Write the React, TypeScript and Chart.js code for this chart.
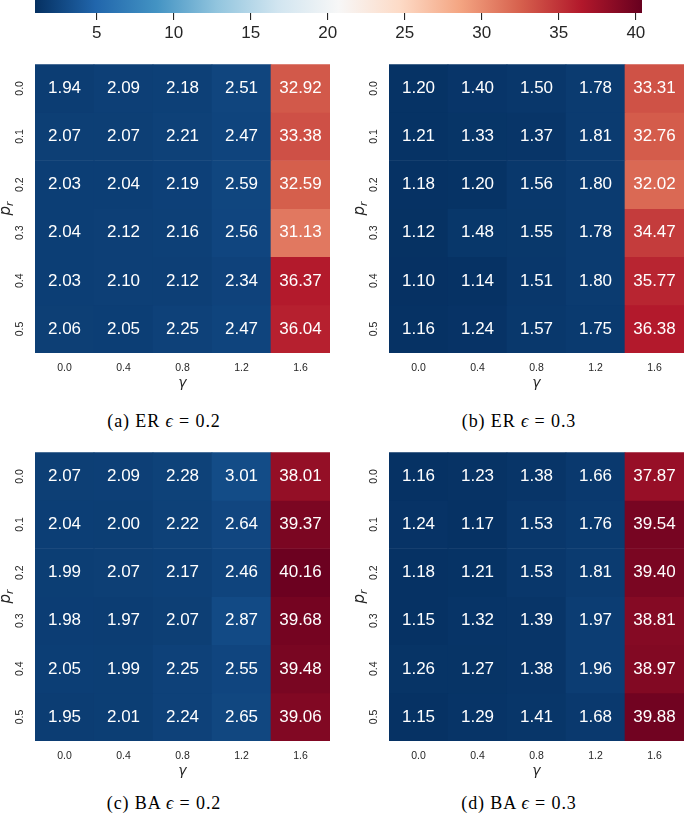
import React, { useEffect, useRef } from 'react';
import { Chart, registerables } from 'chart.js';

Chart.register(...registerables);

// ---------- data ----------
const gammaLabels = ['0.0', '0.4', '0.8', '1.2', '1.6'];
const prLabels = ['0.0', '0.1', '0.2', '0.3', '0.4', '0.5'];

const erEps02 = [
  [1.94, 2.09, 2.18, 2.51, 32.92],
  [2.07, 2.07, 2.21, 2.47, 33.38],
  [2.03, 2.04, 2.19, 2.59, 32.59],
  [2.04, 2.12, 2.16, 2.56, 31.13],
  [2.03, 2.10, 2.12, 2.34, 36.37],
  [2.06, 2.05, 2.25, 2.47, 36.04],
];
const erEps03 = [
  [1.20, 1.40, 1.50, 1.78, 33.31],
  [1.21, 1.33, 1.37, 1.81, 32.76],
  [1.18, 1.20, 1.56, 1.80, 32.02],
  [1.12, 1.48, 1.55, 1.78, 34.47],
  [1.10, 1.14, 1.51, 1.80, 35.77],
  [1.16, 1.24, 1.57, 1.75, 36.38],
];
const baEps02 = [
  [2.07, 2.09, 2.28, 3.01, 38.01],
  [2.04, 2.00, 2.22, 2.64, 39.37],
  [1.99, 2.07, 2.17, 2.46, 40.16],
  [1.98, 1.97, 2.07, 2.87, 39.68],
  [2.05, 1.99, 2.25, 2.55, 39.48],
  [1.95, 2.01, 2.24, 2.65, 39.06],
];
const baEps03 = [
  [1.16, 1.23, 1.38, 1.66, 37.87],
  [1.24, 1.17, 1.53, 1.76, 39.54],
  [1.18, 1.21, 1.53, 1.81, 39.40],
  [1.15, 1.32, 1.39, 1.97, 38.81],
  [1.26, 1.27, 1.38, 1.96, 38.97],
  [1.15, 1.29, 1.41, 1.68, 39.88],
];

const colorbarTicks = [5, 10, 15, 20, 25, 30, 35, 40];
const vmin = 1.0;
const vmax = 40.4;

// RdBu_r colormap anchors
const rdbuR = ['#053061', '#2166ac', '#4393c3', '#92c5de', '#d1e5f0', '#f7f7f7', '#fddbc7', '#f4a582', '#d6604d', '#b2182b', '#67001f'];

function hexToRgb(h: string) {
  const n = parseInt(h.slice(1), 16);
  return [(n >> 16) & 255, (n >> 8) & 255, n & 255];
}
const anchors = rdbuR.map(hexToRgb);

function cmap(v: number) {
  let t = (v - vmin) / (vmax - vmin);
  t = Math.max(0, Math.min(1, t));
  const pos = t * (anchors.length - 1);
  const i = Math.min(Math.floor(pos), anchors.length - 2);
  const f = pos - i;
  const a = anchors[i];
  const b = anchors[i + 1];
  const c = a.map((x, k) => Math.round(x + (b[k] - x) * f));
  return `rgb(${c[0]},${c[1]},${c[2]})`;
}

const TEXT = '#262626';
const SANS = '"Liberation Sans", Arial, sans-serif';
const MATH = '"DejaVu Sans", sans-serif';
Chart.defaults.font.family = SANS;

function makeCellPlugin(values: number[][]) {
  return {
    id: 'cellLabels',
    afterDatasetsDraw(chart: any) {
      const ctx = chart.ctx;
      ctx.save();
      ctx.font = `17px ${SANS}`;
      ctx.fillStyle = '#ffffff';
      ctx.textAlign = 'center';
      ctx.textBaseline = 'middle';
      chart.data.datasets.forEach((_: any, r: number) => {
        const meta = chart.getDatasetMeta(r);
        meta.data.forEach((bar: any, c: number) => {
          const cy = (bar.y + bar.base) / 2;
          ctx.fillText(values[r][c].toFixed(2), bar.x, cy);
        });
      });
      ctx.restore();
    },
  };
}

// y-axis title p_r (italic p with subscript r), rotated like matplotlib's ylabel
const yTitlePlugin = {
  id: 'yTitlePr',
  afterDraw(chart: any) {
    const ctx = chart.ctx;
    const ys = chart.scales.y;
    const cy = (ys.top + ys.bottom) / 2;
    ctx.save();
    ctx.translate(ys.left + 9, cy);
    ctx.rotate(-Math.PI / 2);
    ctx.fillStyle = TEXT;
    ctx.textBaseline = 'alphabetic';
    ctx.textAlign = 'left';
    ctx.font = `italic 15px ${MATH}`;
    const wp = ctx.measureText('p').width;
    ctx.font = `italic 10.5px ${MATH}`;
    const wr = ctx.measureText('r').width;
    const x0 = -(wp + wr) / 2;
    ctx.font = `italic 15px ${MATH}`;
    ctx.fillText('p', x0, 1);
    ctx.font = `italic 10.5px ${MATH}`;
    ctx.fillText('r', x0 + wp, 4);
    ctx.restore();
  },
};

type PanelProps = { values: number[][]; left: number; top: number; width: number; height: number; padRight: number };

function Heatmap({ values, left, top, width, height, padRight }: PanelProps) {
  const ref = useRef<HTMLCanvasElement>(null);
  useEffect(() => {
    const chart = new Chart(ref.current!, {
      type: 'bar',
      data: {
        labels: gammaLabels,
        datasets: prLabels.map((p, r) => ({
          label: p,
          data: gammaLabels.map(() => 1),
          backgroundColor: values[r].map(cmap),
          borderWidth: 0,
          barPercentage: 1,
          categoryPercentage: 1,
          stack: 's',
        })),
      },
      options: {
        responsive: false,
        animation: false,
        layout: { padding: { top: 9, right: padRight, left: 0, bottom: 0 } },
        plugins: { legend: { display: false }, tooltip: { enabled: false } },
        scales: {
          x: {
            stacked: true,
            grid: { display: false, drawTicks: false },
            border: { display: false },
            ticks: { color: TEXT, font: { size: 10.5, family: SANS }, padding: 9, maxRotation: 0, minRotation: 0 },
            title: {
              display: true,
              text: 'γ',
              color: TEXT,
              font: { size: 14, style: 'italic', family: MATH },
              padding: { top: 0, bottom: 1 },
            },
            afterFit: (s: any) => { s.height = 40; },
          },
          y: {
            type: 'linear',
            stacked: true,
            reverse: true,
            min: 0,
            max: 6,
            grid: { display: false, drawTicks: false },
            border: { display: false },
            afterBuildTicks: (s: any) => { s.ticks = prLabels.map((_, i) => ({ value: i + 0.5 })); },
            ticks: {
              color: TEXT,
              font: { size: 10.5, family: SANS },
              padding: 8,
              minRotation: 90,
              maxRotation: 90,
              crossAlign: 'center',
              callback: (_v: any, i: number) => prLabels[i],
            },
            title: { display: false },
            afterFit: (s: any) => { s.width = 35; },
          },
        },
      } as any,
      plugins: [makeCellPlugin(values), yTitlePlugin],
    });
    return () => chart.destroy();
  }, [values, padRight]);
  return (
    <canvas ref={ref} width={width} height={height} style={{ position: 'absolute', left, top, width, height }} />
  );
}

function Colorbar() {
  const ref = useRef<HTMLCanvasElement>(null);
  useEffect(() => {
    const chart = new Chart(ref.current!, {
      type: 'bar',
      data: {
        labels: [''],
        datasets: [
          {
            data: [[vmin, vmax]],
            backgroundColor: (ctx: any) => {
              const ch = ctx.chart;
              const sx = ch.scales.x;
              if (!ch.chartArea || !sx) return rdbuR[5];
              const x0 = sx.getPixelForValue(vmin);
              const x1 = sx.getPixelForValue(vmax);
              const g = ch.ctx.createLinearGradient(x0, 0, x1, 0);
              rdbuR.forEach((c, i) => g.addColorStop(i / (rdbuR.length - 1), c));
              return g;
            },
            borderWidth: 0,
            barPercentage: 1,
            categoryPercentage: 1,
          },
        ],
      },
      options: {
        indexAxis: 'y',
        responsive: false,
        animation: false,
        layout: { padding: { top: 0, left: 35, right: 43, bottom: 0 } },
        plugins: { legend: { display: false }, tooltip: { enabled: false } },
        scales: {
          y: { display: false },
          x: {
            type: 'linear',
            min: vmin,
            max: vmax,
            afterBuildTicks: (s: any) => { s.ticks = colorbarTicks.map((v) => ({ value: v })); },
            grid: { display: true, drawOnChartArea: false, drawTicks: true, tickLength: 7, color: TEXT, lineWidth: 1.1 },
            border: { display: false },
            ticks: { color: TEXT, font: { size: 17, family: SANS }, padding: 3, maxRotation: 0, callback: (v: any) => String(v) },
            afterFit: (s: any) => { s.height = 37; },
          },
        },
      } as any,
    });
    return () => chart.destroy();
  }, []);
  return <canvas ref={ref} width={685} height={50} style={{ position: 'absolute', left: 0, top: 0, width: 685, height: 50 }} />;
}

function Caption({ x, y, label, net, eps }: { x: number; y: number; label: string; net: string; eps: string }) {
  return (
    <div
      style={{
        position: 'absolute',
        left: x,
        top: y,
        transform: 'translate(-50%, -50%)',
        fontFamily: '"Liberation Serif", "Times New Roman", serif',
        fontSize: 18,
        letterSpacing: 0.9,
        whiteSpace: 'nowrap',
        color: '#000',
        lineHeight: '20px',
      }}
    >
      ({label}) {net} <i>ϵ</i> = {eps}
    </div>
  );
}

export default function App() {
  useEffect(() => {
    document.body.style.margin = '0';
  }, []);
  return (
    <div style={{ position: 'fixed', left: 0, top: 0, width: 685, height: 813, overflow: 'hidden', background: '#fff' }}>
      <Colorbar />
      <Heatmap values={erEps02} left={0} top={50} width={340} height={343} padRight={10} />
      <Heatmap values={erEps03} left={354} top={50} width={330} height={343} padRight={0} />
      <Heatmap values={baEps02} left={0} top={438} width={340} height={343} padRight={10} />
      <Heatmap values={baEps03} left={354} top={438} width={330} height={343} padRight={0} />
      <Caption x={164} y={421} label="a" net="ER" eps="0.2" />
      <Caption x={519} y={421} label="b" net="ER" eps="0.3" />
      <Caption x={164} y={803} label="c" net="BA" eps="0.2" />
      <Caption x={519} y={803} label="d" net="BA" eps="0.3" />
    </div>
  );
}
